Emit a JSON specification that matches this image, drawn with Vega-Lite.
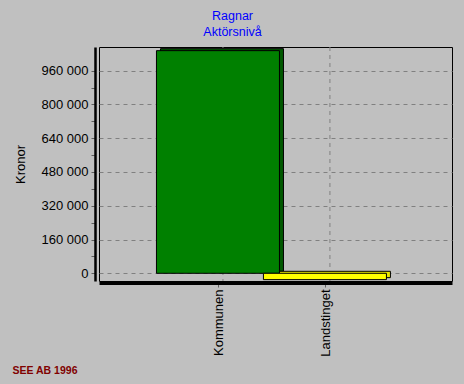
{
  "$schema": "https://vega.github.io/schema/vega-lite/v6.json",
  "width": 353,
  "height": 234,
  "autosize": {"type": "none"},
  "padding": {"left": 99, "top": 47, "right": 12, "bottom": 103},
  "background": "#c0c0c0",
  "title": {
    "text": ["Ragnar", "Aktörsnivå"],
    "color": "#0000ff",
    "font": "Liberation Sans",
    "fontSize": 12.5,
    "fontWeight": "normal",
    "lineHeight": 16,
    "anchor": "middle",
    "dx": -43,
    "offset": 8
  },
  "data": {
    "values": [
      {"aktor": "Kommunen", "kronor": 1055000},
      {"aktor": "Landstinget", "kronor": -30000}
    ]
  },
  "encoding": {
    "x": {
      "field": "aktor",
      "type": "nominal",
      "sort": null,
      "scale": {"paddingInner": 0, "paddingOuter": 0.65, "align": 0.478},
      "axis": {
        "title": "SEE AB 1996",
        "titleX": -87,
        "titleY": 90,
        "titleAlign": "left",
        "titleAnchor": "start",
        "titleBaseline": "alphabetic",
        "titleFont": "Liberation Sans",
        "titleFontSize": 10.5,
        "titleFontWeight": "bold",
        "titleColor": "#800000",
        "labelAngle": 270,
        "labelFont": "Liberation Sans",
        "labelFontSize": 13,
        "labelColor": "#000000",
        "labelPadding": 2,
        "offset": 2,
        "domainColor": "#000000",
        "domainWidth": 3,
        "tickColor": "#606060",
        "tickSize": 4,
        "grid": false
      }
    },
    "y": {
      "field": "kronor",
      "type": "quantitative",
      "scale": {"domain": [-36500, 1072300], "nice": false, "zero": false},
      "axis": {
        "title": "Kronor",
        "titleFont": "Liberation Sans",
        "titleFontSize": 13,
        "titleFontWeight": "normal",
        "titleColor": "#000000",
        "titlePadding": 14,
        "values": [0, 80000, 160000, 240000, 320000, 400000, 480000, 560000, 640000, 720000, 800000, 880000, 960000],
        "labelExpr": "datum.value % 160000 === 0 ? replace(format(datum.value, ','), ',', ' ') : ''",
        "labelFont": "Liberation Sans",
        "labelFontSize": 13,
        "labelColor": "#000000",
        "labelPadding": 3,
        "offset": 4,
        "domainColor": "#000000",
        "domainWidth": 2.5,
        "tickColor": "#606060",
        "tickSize": 4,
        "grid": true,
        "gridColor": "#808080",
        "gridDash": [4, 4],
        "gridOpacity": {"condition": {"test": "datum.value % 160000 === 0", "value": 1}, "value": 0}
      }
    }
  },
  "layer": [
    {
      "mark": {"type": "rule", "xOffset": 4, "strokeDash": [4, 4], "color": "#808080"},
      "encoding": {"y": null}
    },
    {
      "mark": {"type": "bar", "size": 123, "xOffset": 3, "yOffset": -2, "stroke": "#000000", "strokeWidth": 1, "opacity": 1},
      "encoding": {
        "color": {
          "field": "aktor",
          "type": "nominal",
          "scale": {"domain": ["Kommunen", "Landstinget"], "range": ["#005800", "#e8e800"]},
          "legend": null
        }
      }
    },
    {
      "mark": {"type": "bar", "size": 123, "xOffset": -1, "stroke": "#000000", "strokeWidth": 1, "opacity": 1},
      "encoding": {
        "fill": {
          "field": "aktor",
          "type": "nominal",
          "scale": {"domain": ["Kommunen", "Landstinget"], "range": ["#008000", "#ffff00"]},
          "legend": null
        }
      }
    }
  ],
  "resolve": {"scale": {"color": "independent", "fill": "independent"}},
  "config": {
    "view": {"stroke": "#000000", "strokeWidth": 1}
  }
}
